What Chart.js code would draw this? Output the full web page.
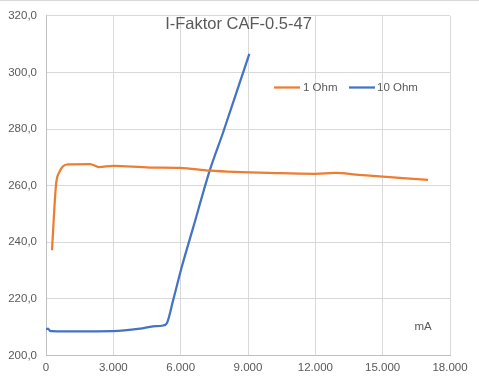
<!DOCTYPE html>
<html><head><meta charset="utf-8">
<script src="https://cdn.jsdelivr.net/npm/chart.js@4"></script>
<style>html,body{margin:0;padding:0;background:#fff;}#wrap{width:479px;height:391px;position:relative;}</style>
</head><body><div id="wrap"><canvas id="c" width="479" height="391"></canvas></div>
<script>
const titleText = "I-Faktor CAF-0.5-47";
const unitLabel = "mA";
const seriesNames = ["1 Ohm", "10 Ohm"];
const seriesColors = ["#ED7D31", "#4472C4"];

const ohm1X = [267, 446, 580, 980, 1960, 2360, 2990, 4630, 5970, 7300, 10430, 11990, 12880, 14120, 17020];
const ohm1Y = [237.2, 260.3, 264.6, 267.5, 267.6, 266.6, 267.0, 266.4, 266.3, 265.3, 264.4, 264.2, 264.5, 263.7, 262.1];

const ohm10X = [0, 90, 180, 270, 620, 2990, 4190, 4770, 5210, 5390, 5660, 6060, 6550, 7300, 7890, 9060];
const ohm10Y = [209.2, 209.5, 208.7, 208.6, 208.5, 208.6, 209.5, 210.3, 210.6, 211.5, 219.4, 231.6, 245.0, 265.5, 278.8, 306.6];

const xTicks = [0, 3000, 6000, 9000, 12000, 15000, 18000];
const yTicks = [200, 220, 240, 260, 280, 300, 320];

const FONT = "'Liberation Sans', Arial, sans-serif";
const TXT = "#595959";

function toPts(xs, ys){ return xs.map((x,i)=>({x:x, y:ys[i]})); }
function fmtX(v){ return Math.round(v).toString().replace(/\B(?=(\d{3})+(?!\d))/g, "."); }
function fmtY(v){ return v.toFixed(1).replace(".", ","); }

const overlay = {
  id: "overlay",
  afterDraw(chart){
    const ctx = chart.ctx;
    ctx.save();
    ctx.strokeStyle = "#D9D9D9"; ctx.lineWidth = 1;
    ctx.beginPath(); ctx.moveTo(0, 0.5); ctx.lineTo(479, 0.5); ctx.stroke();
    ctx.fillStyle = TXT; ctx.font = "16.5px " + FONT; ctx.textAlign = "center"; ctx.textBaseline = "alphabetic";
    ctx.fillText(titleText, 238.5, 29);
    ctx.font = "11.5px " + FONT; ctx.textAlign = "left"; ctx.textBaseline = "middle";
    const items = [{x:274, tx:303}, {x:349, tx:377}];
    items.forEach((it, i)=>{
      ctx.strokeStyle = seriesColors[i]; ctx.lineWidth = 2.25;
      ctx.beginPath(); ctx.moveTo(it.x, 87.5); ctx.lineTo(it.x + 26, 87.5); ctx.stroke();
      ctx.fillStyle = TXT; ctx.fillText(seriesNames[i], it.tx, 88);
    });
    ctx.textAlign = "center";
    ctx.fillText(unitLabel, 423, 327);
    ctx.restore();
  }
};

new Chart(document.getElementById("c"), {
  type: "scatter",
  data: {
    datasets: [
      {label: seriesNames[0], data: toPts(ohm1X, ohm1Y), showLine: true, borderColor: seriesColors[0], backgroundColor: seriesColors[0], borderWidth: 2.25, pointRadius: 0, cubicInterpolationMode: "monotone"},
      {label: seriesNames[1], data: toPts(ohm10X, ohm10Y), showLine: true, borderColor: seriesColors[1], backgroundColor: seriesColors[1], borderWidth: 2.25, pointRadius: 0, cubicInterpolationMode: "monotone"}
    ]
  },
  options: {
    responsive: false, animation: false, devicePixelRatio: 1,
    layout: {padding: {left: 0, right: 29, top: 12, bottom: 0}},
    plugins: {legend: {display: false}, title: {display: false}, tooltip: {enabled: false}},
    scales: {
      x: {
        type: "linear", min: 0, max: 18000,
        afterBuildTicks: s => { s.ticks = xTicks.map(v => ({value: v})); },
        afterFit: s => { s.height = 35.5; },
        grid: {color: "#D9D9D9", lineWidth: 1, drawTicks: false},
        border: {color: "#BFBFBF", width: 1},
        ticks: {color: TXT, font: {family: FONT, size: 11.5}, padding: 5, maxRotation: 0, callback: v => fmtX(v)}
      },
      y: {
        type: "linear", min: 200, max: 320,
        afterBuildTicks: s => { s.ticks = yTicks.map(v => ({value: v})); },
        afterFit: s => { s.width = 46; },
        grid: {color: "#D9D9D9", lineWidth: 1, drawTicks: false},
        border: {color: "#BFBFBF", width: 1},
        ticks: {color: TXT, font: {family: FONT, size: 11.5}, padding: 9, callback: v => fmtY(v)}
      }
    }
  },
  plugins: [overlay]
});
</script></body></html>
